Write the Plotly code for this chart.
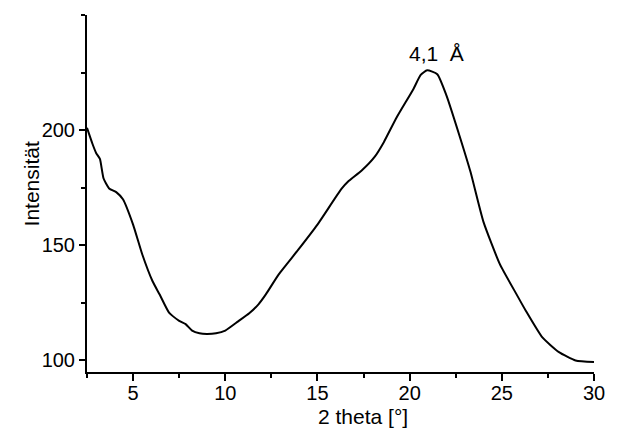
import plotly.graph_objects as go

two_theta = [2.5, 2.8, 3.0, 3.2, 3.4, 3.7, 4.1, 4.45, 5.0, 5.5, 6.05, 6.45, 6.95, 7.5,
             7.85, 8.2, 8.6, 9.0, 9.5, 10.0, 10.7, 11.3, 11.8, 12.2, 12.9, 13.95, 15.0,
             16.3, 16.65, 17.4, 18.1, 18.6, 19.3, 20.2, 20.6, 20.95, 21.5, 22.0, 22.7,
             23.3, 24.0, 24.9, 25.8, 26.3, 27.2, 28.1, 29.0, 30.0]
intensity = [201, 194, 190, 187.5, 179, 174.7, 173, 170, 159, 146, 134.5, 128.5, 120.8, 117.2,
             115.8, 113, 111.8, 111.5, 111.8, 113, 117, 120.5, 124.4, 128.7, 137.4, 148, 159,
             174.5, 177.6, 182.5, 188.4, 194.8, 205.6, 217.8, 224, 226.0, 224.3, 215, 197.7,
             181.9, 160.3, 141.7, 128.7, 121.6, 110, 103.6, 100, 99.3]

x_ticks = [5, 10, 15, 20, 25, 30]
y_ticks = [100, 150, 200]
peak_label = "4,1&nbsp; Å"
peak_pos = (21.45, 233.4)

FONT = "Liberation Sans, Arial, sans-serif"

fig = go.Figure()
fig.add_trace(go.Scatter(x=two_theta, y=intensity, mode="lines",
                         line=dict(color="black", width=2, shape="spline", smoothing=0.5),
                         showlegend=False, hoverinfo="skip"))

fig.add_annotation(x=peak_pos[0], y=peak_pos[1], text=peak_label, showarrow=False,
                   xanchor="center", yanchor="middle",
                   font=dict(family=FONT, size=21, color="black"))
fig.add_annotation(xref="paper", yref="paper", x=(365 - 87) / 511, y=-44 / 357,
                   xanchor="center", yanchor="middle",
                   text="2 theta [°]", showarrow=False,
                   font=dict(family=FONT, size=21, color="black"))
fig.add_annotation(xref="paper", yref="paper", x=-56 / 511, y=(372 - 184) / 357,
                   xanchor="center", yanchor="middle",
                   text="Intensität", showarrow=False, textangle=-90,
                   font=dict(family=FONT, size=21, color="black"))

fig.update_layout(
    width=617, height=430,
    margin=dict(l=87, r=19, t=15, b=58),
    paper_bgcolor="white", plot_bgcolor="white",
    font=dict(family=FONT, size=20, color="black"),
    xaxis=dict(range=[2.5, 30], tickvals=x_ticks, showgrid=False, zeroline=False,
               showline=True, linecolor="black", linewidth=2,
               ticks="outside", ticklen=7, tickwidth=2, tickcolor="black",
               ticklabelstandoff=-5, ticklabeloverflow="allow",
               minor=dict(ticks="outside", ticklen=4, tickwidth=2, tickcolor="black",
                          dtick=2.5, tick0=0),
               tickfont=dict(size=20)),
    yaxis=dict(range=[95, 250], tickvals=y_ticks, showgrid=False, zeroline=False,
               showline=True, linecolor="black", linewidth=2,
               ticks="outside", ticklen=6, tickwidth=2, tickcolor="black",
               minor=dict(ticks="outside", ticklen=4, tickwidth=2, tickcolor="black",
                          dtick=25, tick0=0),
               tickfont=dict(size=20)),
)

fig.write_html("out.html", config={"displayModeBar": False},
               post_script="document.body.style.margin='0px';document.body.style.overflow='hidden';")
